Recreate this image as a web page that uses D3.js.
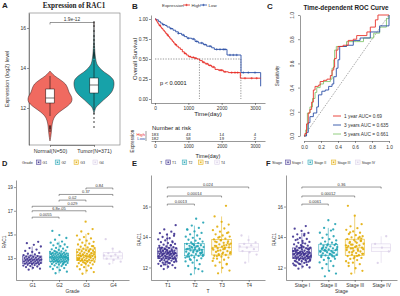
<!DOCTYPE html>
<html>
<head>
<script src="https://d3js.org/d3.v7.min.js"></script>
<style>
  body { margin: 0; background: #fff; }
  svg { display: block; font-family: "Liberation Sans", Arial, sans-serif; }
</style>
</head>
<body>
<div id="chart"></div>
<script>
// ---------- data ----------
// A: violin of RAC1 expression
const violinGroups = ["Normal(N=50)", "Tumor(N=371)"];
const normalLevels = [10.35, 10.6, 10.9, 11.2, 11.5, 11.7, 11.9, 12.1, 12.3, 12.45, 12.6, 12.8, 13.0, 13.2, 13.4, 13.6, 13.75, 13.85];
const normalDensity = [0, 0.04, 0.07, 0.1, 0.18, 0.32, 0.55, 0.8, 0.97, 1.0, 0.96, 0.86, 0.8, 0.7, 0.48, 0.22, 0.08, 0];
const tumorLevels = [11.7, 11.9, 12.05, 12.2, 12.4, 12.6, 12.8, 13.0, 13.2, 13.4, 13.6, 13.8, 14.0, 14.2, 14.5, 14.8, 15.2, 15.8, 16.3];
const tumorDensity = [0, 0.04, 0.1, 0.24, 0.43, 0.64, 0.8, 0.88, 0.91, 0.88, 0.72, 0.46, 0.26, 0.13, 0.07, 0.04, 0.02, 0.01, 0];
const boxQ1 = [12.25, 12.75];
const boxMedian = [12.5, 13.15];
const boxQ3 = [12.95, 13.5];
const whiskerLow = [11.6, 11.9];
const whiskerHigh = [13.6, 14.4];
const normalOutliers = [10.85, 10.95, 11.0, 11.05, 11.1];
const tumorOutliers = [11.05, 11.3, 11.5, 11.7, 14.5, 14.56, 14.62, 14.68, 14.74, 14.8, 14.9, 15.05, 15.2, 15.4, 15.6, 15.85, 16.1, 16.3];
const violinPLabel = "1.9e-12";

// B: Kaplan-Meier
const highTime = [0, 30, 60, 90, 120, 160, 200, 240, 280, 320, 360, 400, 440, 480, 520, 560, 600, 650, 700, 760, 820, 880, 940, 1000, 1080, 1180, 1260, 1340, 1420, 1500, 1600, 1700, 1800, 1900, 2050, 2200, 2560, 3170];
const highSurv = [1, 0.98, 0.96, 0.94, 0.92, 0.9, 0.88, 0.86, 0.84, 0.82, 0.8, 0.78, 0.76, 0.74, 0.72, 0.7, 0.68, 0.66, 0.64, 0.62, 0.59, 0.57, 0.55, 0.53, 0.52, 0.51, 0.5, 0.48, 0.46, 0.44, 0.42, 0.4, 0.37, 0.36, 0.34, 0.33, 0.26, 0.26];
const lowTime = [0, 40, 100, 160, 220, 300, 360, 450, 540, 620, 700, 800, 880, 960, 1100, 1200, 1300, 1450, 1550, 1700, 1780, 2160, 2580, 3170, 3175];
const lowSurv = [1, 0.99, 0.97, 0.95, 0.93, 0.92, 0.9, 0.88, 0.86, 0.84, 0.82, 0.8, 0.78, 0.76, 0.75, 0.72, 0.7, 0.68, 0.66, 0.64, 0.62, 0.55, 0.33, 0.16, 0.16];
const highCensor = [150, 380, 620, 900, 1050, 1150, 1220, 1450, 1560, 1650, 1750, 1950, 2000, 2100, 2300, 2400, 2480, 2700, 2900, 3050];
const lowCensor = [250, 480, 700, 850, 1000, 1150, 1250, 1400, 1500, 1650, 1850, 1950, 2050, 2100, 2250, 2350, 2450, 2650, 2800, 3000];
const medianTimes = [1333, 2576];
const riskTimes = [0, 1000, 2000, 3000];
const riskHigh = [183, 43, 14, 4];
const riskLow = [182, 58, 19, 2];

// C: time-dependent ROC
const rocLabels = ["1 year AUC= 0.69", "3 years AUC = 0.635", "5 years AUC = 0.661"];
const roc1Fpr = [0, 0.01, 0.03, 0.05, 0.07, 0.09, 0.11, 0.13, 0.17, 0.19, 0.23, 0.27, 0.31, 0.33, 0.35, 0.36, 0.38, 0.4, 0.46, 0.52, 0.58, 0.62, 0.74, 0.78, 0.84, 0.87, 1];
const roc1Tpr = [0, 0.02, 0.1, 0.19, 0.22, 0.28, 0.38, 0.41, 0.42, 0.45, 0.46, 0.47, 0.5, 0.545, 0.57, 0.64, 0.71, 0.74, 0.75, 0.79, 0.8, 0.83, 0.86, 0.9, 0.96, 1, 1];
const roc3Fpr = [0, 0.03, 0.05, 0.07, 0.11, 0.15, 0.17, 0.21, 0.25, 0.29, 0.33, 0.35, 0.38, 0.4, 0.42, 0.5, 0.58, 0.66, 0.78, 0.89, 1];
const roc3Tpr = [0, 0.03, 0.11, 0.16, 0.19, 0.24, 0.34, 0.37, 0.38, 0.41, 0.43, 0.49, 0.56, 0.63, 0.74, 0.75, 0.79, 0.81, 0.86, 0.91, 1];
const roc5Fpr = [0, 0.02, 0.04, 0.07, 0.1, 0.13, 0.15, 0.19, 0.23, 0.27, 0.31, 0.33, 0.35, 0.36, 0.38, 0.46, 0.5, 0.62, 0.7, 0.82, 0.89, 0.97, 1];
const roc5Tpr = [0, 0.05, 0.19, 0.24, 0.31, 0.36, 0.4, 0.43, 0.45, 0.45, 0.47, 0.56, 0.63, 0.71, 0.74, 0.74, 0.78, 0.78, 0.81, 0.85, 0.9, 0.97, 1];

// D: grade
const gradeGroups = ["G1", "G2", "G3", "G4"];
const gradeG1 = [12.02,12.11,12.18,12.24,12.29,12.33,12.37,12.41,12.44,12.47,12.5,12.52,12.55,12.57,12.6,12.62,12.64,12.66,12.69,12.71,12.73,12.76,12.78,12.8,12.82,12.84,12.86,12.88,12.9,12.93,12.95,12.97,13.0,13.02,13.05,13.08,13.1,13.13,13.17,13.21,13.26,13.31,13.37,13.44,13.52,13.61,13.72,13.85,13.98,14.12,14.26,14.38];
const gradeG2 = [11.72,11.85,11.98,12.08,12.16,12.22,12.28,12.33,12.38,12.42,12.46,12.5,12.53,12.56,12.59,12.62,12.65,12.67,12.69,12.71,12.73,12.75,12.77,12.79,12.81,12.83,12.85,12.87,12.88,12.9,12.92,12.93,12.95,12.97,12.98,13.0,13.02,13.03,13.05,13.06,13.08,13.1,13.11,13.13,13.15,13.16,13.18,13.2,13.22,13.24,13.26,13.28,13.3,13.32,13.34,13.36,13.38,13.4,13.43,13.46,13.49,13.52,13.56,13.6,13.64,13.69,13.74,13.8,13.86,13.93,14.0,14.08,14.15,14.22,14.3,14.4,14.55,14.7,14.95,15.3,12.6,12.8,13.0,13.2,12.9,13.1,12.7,13.35,12.45,13.55];
const gradeG3 = [11.68,11.82,11.95,12.06,12.15,12.23,12.3,12.36,12.42,12.47,12.52,12.57,12.61,12.65,12.69,12.73,12.76,12.79,12.82,12.85,12.88,12.91,12.94,12.97,13.0,13.03,13.06,13.09,13.12,13.15,13.18,13.21,13.24,13.27,13.3,13.33,13.36,13.39,13.42,13.46,13.5,13.54,13.58,13.62,13.66,13.7,13.75,13.8,13.85,13.9,13.96,14.02,14.08,14.15,14.22,14.3,14.38,14.47,14.56,14.66,14.78,14.9,15.05,15.25,15.45,16.08,12.9,13.1,13.3,13.5,12.7,13.2,13.4,12.6,13.0,13.6,12.8,14.0,13.15,12.95];
const gradeG4 = [12.52,12.7,12.85,12.95,13.05,13.15,13.22,13.3,13.42,13.55,13.8,14.6];
const gradeComparisons = [["G1","G2","0.0055",16.46],["G1","G3","6.8e-05",17.0],["G1","G4","0.029",17.38],["G2","G3","0.02",17.9],["G2","G4","0.37",18.38],["G3","G4","0.84",18.92]];

// E: T stage
const tGroups = ["T1", "T2", "T3", "T4"];
const tT1 = [11.9,11.98,12.05,12.1,12.15,12.2,12.24,12.28,12.32,12.36,12.39,12.42,12.45,12.48,12.5,12.53,12.55,12.57,12.6,12.62,12.64,12.66,12.68,12.7,12.72,12.74,12.76,12.78,12.8,12.82,12.84,12.86,12.88,12.9,12.92,12.94,12.96,12.98,13.0,13.02,13.04,13.06,13.08,13.1,13.13,13.16,13.19,13.22,13.25,13.28,13.31,13.34,13.38,13.42,13.46,13.5,13.55,13.6,13.66,13.72,13.78,13.85,13.92,14.0,14.08,14.16,14.25,14.35,14.5,14.78,12.3,12.5,12.6,12.7,12.75,12.85,12.9,12.95,13.0,13.05,13.1,13.2,12.4,12.65,12.8,12.88,13.15,13.3,13.45,12.2,12.58,12.92,13.25,13.65,12.35,12.72,13.02,13.12,14.2,13.9];
const tT2 = [11.55,11.75,11.95,12.1,12.22,12.32,12.4,12.47,12.54,12.6,12.66,12.71,12.76,12.8,12.84,12.88,12.92,12.96,13.0,13.04,13.08,13.12,13.15,13.18,13.22,13.26,13.3,13.34,13.38,13.42,13.46,13.5,13.55,13.6,13.65,13.7,13.76,13.82,13.88,13.95,14.02,14.1,14.18,14.27,14.37,14.48,14.6,14.75,14.95,15.2,12.7,12.9,13.1,13.2,13.4,12.5,13.0,13.3,12.85,13.15,13.55,12.65,13.05,13.25,12.95,13.45,14.5,11.9,13.35,12.75];
const tT3 = [11.62,11.8,11.98,12.12,12.24,12.34,12.43,12.51,12.58,12.65,12.71,12.77,12.82,12.87,12.92,12.97,13.02,13.07,13.12,13.17,13.22,13.27,13.32,13.37,13.42,13.47,13.52,13.57,13.62,13.67,13.72,13.78,13.84,13.9,13.96,14.03,14.1,14.18,14.26,14.35,14.45,14.56,14.68,14.82,15.0,15.35,16.05,12.8,13.0,13.2,13.4,13.6,13.8,12.6,13.3,13.1,13.5,12.9,13.7,12.2,14.0,13.25,13.45,12.75,14.3];
const tT4 = [12.32,12.85,13.0,13.08,13.2,13.3,13.38,13.45,13.55,13.65,13.8,14.1];
const tComparisons = [["T1","T2","0.0013",16.16],["T1","T3","0.00014",16.69],["T1","T4","0.024",17.28]];

// F: pathologic stage
const stageGroups = ["Stage I", "Stage II", "Stage III", "Stage IV"];
const stageI = [11.92,12.0,12.06,12.12,12.17,12.22,12.26,12.3,12.34,12.38,12.41,12.44,12.47,12.5,12.52,12.55,12.57,12.59,12.62,12.64,12.66,12.68,12.7,12.72,12.74,12.76,12.78,12.8,12.82,12.84,12.86,12.88,12.9,12.92,12.94,12.96,12.98,13.0,13.02,13.04,13.07,13.1,13.13,13.16,13.19,13.22,13.25,13.28,13.31,13.35,13.39,13.43,13.47,13.52,13.57,13.62,13.68,13.74,13.8,13.87,13.94,14.02,14.1,14.18,14.27,14.4,14.55,14.72,12.25,12.45,12.6,12.65,12.75,12.8,12.85,12.9,12.95,13.0,13.05,13.1,12.35,12.55,12.7,12.87,13.12,13.2,13.3,12.15,12.5,12.93,13.24,13.6,12.4,12.73,12.99,13.08,14.2,13.85,12.62,13.4];
const stageII = [11.42,11.6,11.78,11.95,12.1,12.22,12.33,12.42,12.5,12.57,12.63,12.69,12.74,12.79,12.84,12.88,12.92,12.96,13.0,13.04,13.08,13.11,13.14,13.18,13.22,13.26,13.3,13.34,13.38,13.42,13.47,13.52,13.57,13.63,13.7,13.78,13.86,13.95,14.05,14.16,14.28,14.42,14.6,14.85,15.1,12.8,13.0,13.1,13.2,12.9,13.3,12.7,13.45,13.05,12.85,13.15,13.55,12.6,13.25,14.5];
const stageIII = [11.6,11.78,11.95,12.1,12.22,12.32,12.41,12.49,12.56,12.63,12.69,12.75,12.8,12.85,12.9,12.95,13.0,13.05,13.1,13.15,13.2,13.25,13.3,13.35,13.4,13.45,13.5,13.56,13.62,13.68,13.74,13.8,13.86,13.92,13.98,14.05,14.12,14.2,14.28,14.37,14.47,14.58,14.7,14.84,15.4,16.05,12.8,13.0,13.2,13.4,13.6,13.75,12.6,13.3,13.1,13.5,12.9,13.7,12.3,14.0,13.25,13.45,12.75,14.3,13.9];
const stageIV = [12.3, 13.05, 13.3, 13.55, 14.05];
const stageComparisons = [["Stage I","Stage II","0.0061",16.16],["Stage I","Stage III","0.00012",16.69],["Stage I","Stage IV","0.36",17.28]];

const groupColors = ["#3E3190", "#21A3B4", "#E3AE0A", "#DACFE8"];

// ---------- drawing ----------
const FONT = '"Liberation Sans", Arial, sans-serif';
const fmtInt = d3.format("d");
const svg = d3.select("#chart").append("svg").attr("width", 400).attr("height", 296);
svg.append("rect").attr("width", 400).attr("height", 296).attr("fill", "#fff");

function label(x, y, s, size, o = {}) {
  const t = svg.append("text").attr("x", x).attr("y", y).text(s)
    .attr("font-size", size).attr("fill", o.fill || "#222")
    .attr("text-anchor", o.anchor || "start");
  if (o.bold) t.attr("font-weight", "bold");
  if (o.family) t.attr("font-family", o.family);
  if (o.rotate) t.attr("transform", `rotate(${o.rotate},${x},${y})`);
  return t;
}

function styleAxis(g, size) {
  g.attr("font-family", FONT).attr("font-size", size);
  g.select(".domain").attr("stroke", "#333").attr("stroke-width", 0.5);
  g.selectAll(".tick line").attr("stroke", "#333").attr("stroke-width", 0.5);
  g.selectAll(".tick text").attr("fill", "#333");
}

// ===== A =====
label(2, 8, "A", 8, { bold: true });
label(74, 8, "Expression of RAC1", 7.2, { bold: true, anchor: "middle", family: '"Liberation Serif", "Times New Roman", serif' });
const aX = d3.scalePoint().domain(violinGroups).range([50, 94]);
const aY = d3.scaleLinear().domain([10.15, 16.75]).range([145, 13]);
const aW = d3.scaleLinear().domain([0, 1]).range([0, 22]);
svg.append("rect").attr("x", 29).attr("y", 13).attr("width", 91).attr("height", 132)
  .attr("fill", "none").attr("stroke", "#777").attr("stroke-width", 0.6);
styleAxis(svg.append("g").attr("transform", "translate(29,0)")
  .call(d3.axisLeft(aY).tickValues([12, 14, 16]).tickFormat(fmtInt).tickSize(2).tickPadding(1).tickSizeOuter(0)), 5);
styleAxis(svg.append("g").attr("transform", "translate(0,145)")
  .call(d3.axisBottom(aX).tickSize(2).tickPadding(2).tickSizeOuter(0)), 5.3);
label(9, 79, "Expression (log2) level", 5.6, { anchor: "middle", rotate: -90, fill: "#333" });

const violins = [
  { levels: normalLevels, dens: normalDensity, fill: "#F06A60", out: normalOutliers },
  { levels: tumorLevels, dens: tumorDensity, fill: "#17A2A9", out: tumorOutliers }
];
violins.forEach((v, i) => {
  const cx = aX(violinGroups[i]);
  const pts = v.levels.map((l, k) => ({ l, d: v.dens[k] }));
  const area = d3.area().curve(d3.curveCatmullRom)
    .y(d => aY(d.l)).x0(d => cx - aW(d.d)).x1(d => cx + aW(d.d));
  svg.append("path").attr("d", area(pts)).attr("fill", v.fill)
    .attr("stroke", "#3a1d1d").attr("stroke-width", 0.5);
  svg.append("line").attr("x1", cx).attr("x2", cx)
    .attr("y1", aY(whiskerHigh[i])).attr("y2", aY(whiskerLow[i]))
    .attr("stroke", "#111").attr("stroke-width", 0.6);
  svg.append("rect").attr("x", cx - 4.2).attr("width", 8.4)
    .attr("y", aY(boxQ3[i])).attr("height", aY(boxQ1[i]) - aY(boxQ3[i]))
    .attr("fill", "#fff").attr("stroke", "#111").attr("stroke-width", 0.5);
  svg.append("line").attr("x1", cx - 4.2).attr("x2", cx + 4.2)
    .attr("y1", aY(boxMedian[i])).attr("y2", aY(boxMedian[i]))
    .attr("stroke", "#111").attr("stroke-width", 0.6);
  svg.append("g").selectAll("circle").data(v.out).join("circle")
    .attr("cx", cx).attr("cy", d => aY(d)).attr("r", 0.75).attr("fill", "#111");
});
{
  const by = 22.5, x1 = aX(violinGroups[0]), x2 = aX(violinGroups[1]);
  svg.append("path").attr("d", `M${x1},${by + 2}V${by}H${x2}V${by + 2}`)
    .attr("fill", "none").attr("stroke", "#333").attr("stroke-width", 0.5);
  label((x1 + x2) / 2, by - 1.2, violinPLabel, 4.8, { anchor: "middle", fill: "#333" });
}

// ===== B =====
const red = "#E8261F", blue = "#2A4FA6";
label(132, 9, "B", 8, { bold: true });
const bX = d3.scaleLinear().domain([-120, 3300]).range([151, 265]);
const bY = d3.scaleLinear().domain([-0.05, 1.05]).range([103, 15]);
styleAxis(svg.append("g").attr("transform", "translate(151,0)")
  .call(d3.axisLeft(bY).tickValues([0, 0.25, 0.5, 0.75, 1]).tickFormat(d3.format(".2f")).tickSize(2).tickPadding(1).tickSizeOuter(0)), 4.8);
styleAxis(svg.append("g").attr("transform", "translate(0,103)")
  .call(d3.axisBottom(bX).tickValues(riskTimes).tickFormat(fmtInt).tickSize(2).tickPadding(1.5).tickSizeOuter(0)), 4.8);
label(137, 59, "Overall Survival", 6, { anchor: "middle", rotate: -90, fill: "#222" });
label(208, 116, "Time(day)", 6.2, { anchor: "middle", fill: "#222" });

// legend
label(162, 6.5, "Expression", 4.4, { fill: "#333" });
[[red, "High", 183], [blue, "Low", 200]].forEach(([c, t, x]) => {
  svg.append("line").attr("x1", x).attr("x2", x + 7).attr("y1", 5).attr("y2", 5).attr("stroke", c).attr("stroke-width", 0.8);
  svg.append("path").attr("d", `M${x + 2.3},5h2.4M${x + 3.5},3.8v2.4`).attr("stroke", c).attr("stroke-width", 0.6);
  label(x + 8.5, 6.5, t, 4.4, { fill: "#333" });
});

// dashed median lines
const dash = "1.3,1.3";
svg.append("line").attr("x1", bX(0)).attr("x2", bX(medianTimes[1])).attr("y1", bY(0.5)).attr("y2", bY(0.5))
  .attr("stroke", "#333").attr("stroke-width", 0.5).attr("stroke-dasharray", dash);
medianTimes.forEach(t => {
  svg.append("line").attr("x1", bX(t)).attr("x2", bX(t)).attr("y1", bY(0.5)).attr("y2", bY(0))
    .attr("stroke", "#333").attr("stroke-width", 0.5).attr("stroke-dasharray", dash);
});

function survAt(times, surv, t) {
  let s = surv[0];
  for (let k = 0; k < times.length; k++) if (times[k] <= t) s = surv[k];
  return s;
}
const step = d3.line().curve(d3.curveStepAfter).x(d => bX(d[0])).y(d => bY(d[1]));
[[lowTime, lowSurv, lowCensor, blue], [highTime, highSurv, highCensor, red]].forEach(([tm, sv, cens, c]) => {
  svg.append("path").attr("d", step(tm.map((t, k) => [t, sv[k]])))
    .attr("fill", "none").attr("stroke", c).attr("stroke-width", 0.9);
  svg.append("g").selectAll("path").data(cens).join("path")
    .attr("d", t => { const x = bX(t), y = bY(survAt(tm, sv, t)); return `M${x - 1.2},${y}h2.4M${x},${y - 1.2}v2.4`; })
    .attr("stroke", c).attr("stroke-width", 0.55);
});
label(bX(150), bY(0.2) + 2, "p < 0.0001", 5.6, { fill: "#111" });

// risk table
label(152, 129.5, "Number at risk", 6, { fill: "#222" });
const rY = d3.scalePoint().domain(["High", "Low"]).range([134.5, 138.8]);
svg.append("line").attr("x1", 146).attr("x2", 146).attr("y1", 131).attr("y2", 141).attr("stroke", "#333").attr("stroke-width", 0.5);
styleAxis(svg.append("g").attr("transform", "translate(0,141)")
  .call(d3.axisBottom(bX).tickValues(riskTimes).tickFormat(fmtInt).tickSize(2).tickPadding(1.5).tickSizeOuter(0)), 4.5);
[["High", riskHigh, red], ["Low", riskLow, blue]].forEach(([k, vals, c]) => {
  label(145, rY(k) + 1.4, k, 4.2, { anchor: "end", fill: c });
  riskTimes.forEach((t, j) => label(bX(t), rY(k) + 1.4, vals[j], 4.2, { anchor: "middle", fill: "#222" }));
});
label(208, 157.5, "Time(day)", 5.6, { anchor: "middle", fill: "#222" });
label(134, 141, "Expression", 4.6, { anchor: "middle", rotate: -90, fill: "#222" });

// ===== C =====
label(267, 9, "C", 8, { bold: true });
label(346, 10, "Time-dependent ROC Curve", 6.4, { bold: true, anchor: "middle" });
const cX = d3.scaleLinear().domain([0, 1]).range([304, 389]);
const cY = d3.scaleLinear().domain([0, 1]).range([136, 15]);
const ticks5 = [0, 0.2, 0.4, 0.6, 0.8, 1];
const cLeft = svg.append("g").attr("transform", "translate(300,0)")
  .call(d3.axisLeft(cY).tickValues(ticks5).tickFormat(d3.format(".1f")).tickSize(2).tickPadding(2).tickSizeOuter(0));
styleAxis(cLeft, 4.8);
cLeft.selectAll(".tick text").attr("text-anchor", "middle").attr("x", 0).attr("dy", 0)
  .attr("transform", "translate(-6,0) rotate(-90)");
const cBot = svg.append("g").attr("transform", "translate(0,141)")
  .call(d3.axisBottom(cX).tickValues(ticks5).tickFormat(d3.format(".1f")).tickSize(2).tickPadding(3).tickSizeOuter(0));
styleAxis(cBot, 4.8);
label(279, 76, "Sensitivity", 4.6, { anchor: "middle", rotate: -90, fill: "#333" });
svg.append("line").attr("x1", cX(0)).attr("y1", cY(0)).attr("x2", cX(1)).attr("y2", cY(1))
  .attr("stroke", "#555").attr("stroke-width", 0.5).attr("stroke-dasharray", "1.6,1.2");
const rocColors = ["#E8332B", "#2E50A6", "#86C872"];
const rocLine = d3.line().curve(d3.curveStepAfter).x(d => cX(d[0])).y(d => cY(d[1]));
[[roc5Fpr, roc5Tpr, 2], [roc3Fpr, roc3Tpr, 1], [roc1Fpr, roc1Tpr, 0]].forEach(([f, t, k]) => {
  svg.append("path").attr("d", rocLine(f.map((v, j) => [v, t[j]])))
    .attr("fill", "none").attr("stroke", rocColors[k]).attr("stroke-width", 0.9);
});
const legY = d3.scalePoint().domain(rocLabels).range([116, 134]);
rocLabels.forEach((s, k) => {
  svg.append("line").attr("x1", 333).attr("x2", 341).attr("y1", legY(s)).attr("y2", legY(s))
    .attr("stroke", rocColors[k]).attr("stroke-width", 0.9);
  label(344, legY(s) + 1.6, s, 4.8, { fill: "#333" });
});

// ===== D/E/F =====
function frac(x) { return x - Math.floor(x); }
function boxPanel(p) {
  const x = d3.scalePoint().domain(p.groups).range([p.x0, p.x1]).padding(0.6);
  const y = d3.scaleLinear().domain(p.yDomain).range([280, p.yTop]);
  const st = x.step();
  label(p.letterX, 166, p.letter, 7.5, { bold: true });

  // legend
  let lx = p.legendX;
  const lt = label(lx, 164, p.legendTitle, 3.9, { fill: "#333" });
  lx += lt.node().getComputedTextLength() + 3.5;
  p.groups.forEach((gname, i) => {
    svg.append("rect").attr("x", lx).attr("y", 160).attr("width", 4.6).attr("height", 4.6)
      .attr("fill", groupColors[i]).attr("fill-opacity", 0.18).attr("stroke", groupColors[i]).attr("stroke-width", 0.5);
    svg.append("circle").attr("cx", lx + 2.3).attr("cy", 162.3).attr("r", 0.8).attr("fill", groupColors[i]);
    const t = label(lx + 6.2, 164, gname, 3.5, { fill: "#333" });
    lx += 6.2 + t.node().getComputedTextLength() + p.legendGap;
  });

  styleAxis(svg.append("g").attr("transform", `translate(${p.x0},0)`)
    .call(d3.axisLeft(y).tickValues(p.ticks).tickFormat(fmtInt).tickSize(2).tickPadding(1).tickSizeOuter(0)), 4.8);
  styleAxis(svg.append("g").attr("transform", "translate(0,280)")
    .call(d3.axisBottom(x).tickSize(2).tickPadding(1.5).tickSizeOuter(0)), 4.8);
  label(p.x0 - 10.5, (280 + p.yTop) / 2 + 12, "RAC1", 4.8, { anchor: "middle", rotate: -90, fill: "#333" });
  label((p.x0 + p.x1) / 2, 292.5, p.xTitle, 5, { anchor: "middle", fill: "#333" });

  p.values.forEach((vals, i) => {
    const cx = x(p.groups[i]);
    const c = groupColors[i];
    svg.append("g").selectAll("circle").data(vals).join("circle")
      .attr("cx", (d, j) => cx + (frac(j * 0.618034 + 0.31) - 0.5) * 2 * 0.34 * st)
      .attr("cy", d => y(d)).attr("r", 1.15).attr("fill", c).attr("fill-opacity", 0.9);
    const s = vals.slice().sort(d3.ascending);
    const q1 = d3.quantile(s, 0.25), q2 = d3.quantile(s, 0.5), q3 = d3.quantile(s, 0.75);
    const iqr = q3 - q1;
    const lo = d3.min(s.filter(v => v >= q1 - 1.5 * iqr));
    const hi = d3.max(s.filter(v => v <= q3 + 1.5 * iqr));
    const hw = 0.36 * st;
    const bg = svg.append("g").attr("stroke", c).attr("stroke-width", 0.55).attr("fill", "none");
    bg.append("rect").attr("x", cx - hw).attr("width", 2 * hw).attr("y", y(q3)).attr("height", y(q1) - y(q3))
      .attr("fill", c).attr("fill-opacity", 0.06);
    bg.append("line").attr("x1", cx - hw).attr("x2", cx + hw).attr("y1", y(q2)).attr("y2", y(q2));
    bg.append("line").attr("x1", cx).attr("x2", cx).attr("y1", y(q3)).attr("y2", y(hi));
    bg.append("line").attr("x1", cx).attr("x2", cx).attr("y1", y(q1)).attr("y2", y(lo));
  });

  p.comparisons.forEach(([a, b, t, lvl]) => {
    const yy = y(lvl);
    svg.append("path").attr("d", `M${x(a)},${yy + 1.5}V${yy}H${x(b)}V${yy + 1.5}`)
      .attr("fill", "none").attr("stroke", "#333").attr("stroke-width", 0.5);
    label((x(a) + x(b)) / 2, yy - 1, t, 4, { anchor: "middle", fill: "#333" });
  });
}

boxPanel({ letter: "D", letterX: 2, legendTitle: "Grade", legendX: 22, legendGap: 8,
  groups: gradeGroups, values: [gradeG1, gradeG2, gradeG3, gradeG4],
  x0: 16, x1: 129, yDomain: [11.15, 19.6], yTop: 180, ticks: [13, 15, 17, 19],
  xTitle: "Grade", comparisons: gradeComparisons });
boxPanel({ letter: "E", letterX: 132, legendTitle: "T", legendX: 160, legendGap: 6,
  groups: tGroups, values: [tT1, tT2, tT3, tT4],
  x0: 151, x1: 265, yDomain: [11.18, 18.07], yTop: 175, ticks: [12, 14, 16],
  xTitle: "T", comparisons: tComparisons });
boxPanel({ letter: "F", letterX: 266, legendTitle: "Stage", legendX: 272, legendGap: 5,
  groups: stageGroups, values: [stageI, stageII, stageIII, stageIV],
  x0: 286, x1: 397, yDomain: [11.18, 18.07], yTop: 175, ticks: [12, 14, 16],
  xTitle: "Stage", comparisons: stageComparisons });
</script>
</body>
</html>
